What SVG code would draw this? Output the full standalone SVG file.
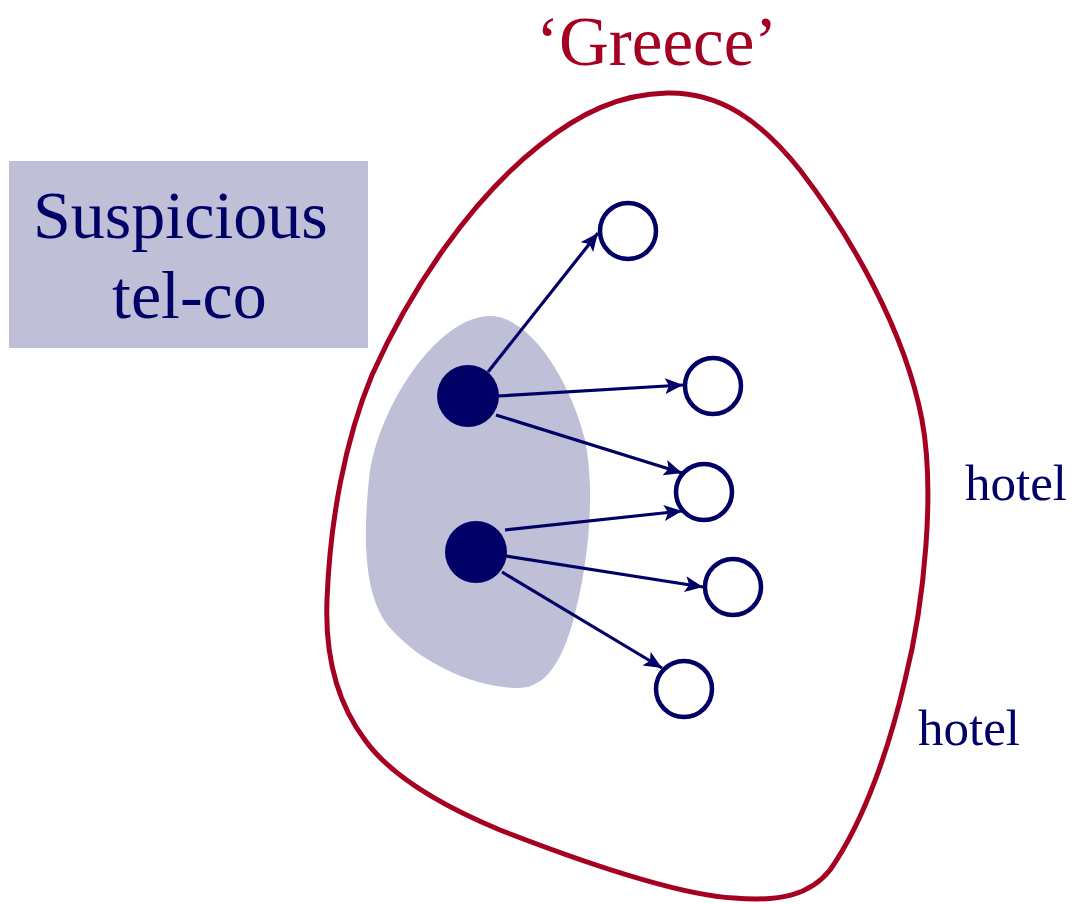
<svg xmlns="http://www.w3.org/2000/svg" width="1074" height="904" viewBox="0 0 1074 904">
<style>
.navy{font-family:"Liberation Serif","Times New Roman",serif;fill:#000066}
.red{font-family:"Liberation Serif","Times New Roman",serif;fill:#a50021}
.open{fill:#fff;stroke:#000066;stroke-width:4.5}
.solid{fill:#000066}
.conn line{stroke:#000066;stroke-width:3.2;marker-end:url(#ah)}
</style>
<defs>
<marker id="ah" markerUnits="userSpaceOnUse" markerWidth="20" markerHeight="16" refX="18" refY="8" orient="auto">
<path d="M0,0 L18,8 L0,16 L4,8 Z" fill="#000066"/>
</marker>
</defs>
<rect width="1074" height="904" fill="#fff"/>
<g id="greece">
<path d="M667,93 C720,92 760,120 800,170 C850,235 905,330 922,420 C935,490 925,600 905,680 C890,745 865,820 830,870 C810,895 780,902 734,898 C680,895 590,865 500,830 C440,805 390,775 365,740 C335,700 325,650 327,600 C330,520 345,440 372,375 C410,290 470,200 540,145 C580,113 620,94 667,93 Z" fill="none" stroke="#a50021" stroke-width="5"/>
<text class="red" x="536" y="65" font-size="69">‘Greece’</text>
</g>
<g id="telco-area">
<path d="M490,316 C530,316 570,380 585,440 C595,490 590,560 572,625 C558,672 540,689 515,688 C470,686 420,662 390,628 C364,598 362,540 370,470 C382,400 440,316 490,316 Z" fill="#bfc0d8"/>
</g>
<g id="telco-box">
<rect x="9" y="161" width="359" height="187" fill="#bfc0d8"/>
<text class="navy" x="33" y="238" font-size="68">Suspicious</text>
<text class="navy" x="112" y="318" font-size="68">tel-co</text>
</g>
<g class="conn" id="connectors">
<line x1="488" y1="372" x2="598" y2="233"/>
<line x1="498" y1="396" x2="683" y2="385"/>
<line x1="496" y1="415" x2="682" y2="473"/>
<line x1="505" y1="530" x2="682" y2="511"/>
<line x1="506" y1="556" x2="703" y2="587"/>
<line x1="502" y1="572" x2="662" y2="668"/>
</g>
<g id="s1"><circle class="solid" cx="468" cy="396" r="31"/></g>
<g id="s2"><circle class="solid" cx="476" cy="552" r="31"/></g>
<g id="h1"><circle class="open" cx="628" cy="231" r="28"/></g>
<g id="h2"><circle class="open" cx="713" cy="386" r="28"/></g>
<g id="h3"><circle class="open" cx="704" cy="492" r="28"/></g>
<g id="h4"><circle class="open" cx="733" cy="587" r="28"/></g>
<g id="h5"><circle class="open" cx="684" cy="689" r="28"/></g>
<g id="hotel1"><text class="navy" x="965" y="500" font-size="51">hotel</text></g>
<g id="hotel2"><text class="navy" x="918" y="745" font-size="51">hotel</text></g>
</svg>
